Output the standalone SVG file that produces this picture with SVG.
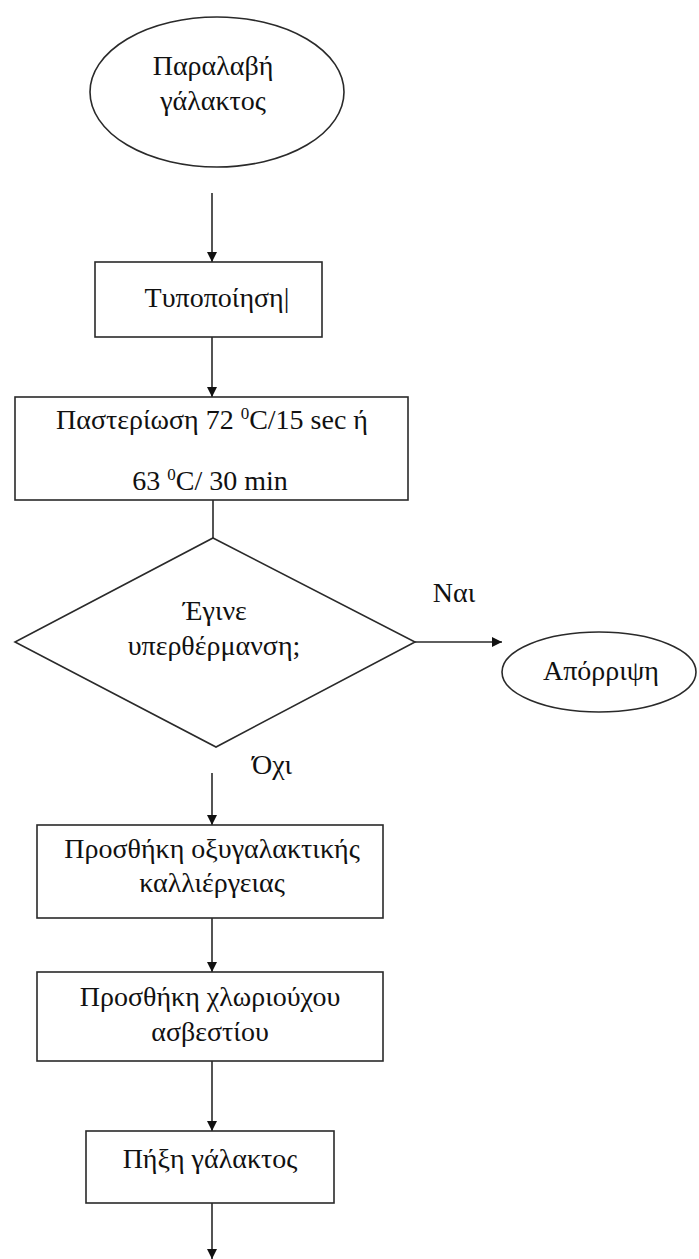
<svg xmlns="http://www.w3.org/2000/svg" width="699" height="1259" viewBox="0 0 699 1259">
<style>
.shape{fill:#fff;stroke:#2a2a2a;stroke-width:1.6}
.conn{stroke:#2a2a2a;stroke-width:1.6;fill:none}
</style>
<defs>
<marker id="ah" viewBox="0 0 10 10" refX="10" refY="5" markerWidth="10" markerHeight="10" markerUnits="userSpaceOnUse" orient="auto">
<path d="M0,0 L10,5 L0,10 z" fill="#111"/>
</marker>
</defs>
<rect width="699" height="1259" fill="#fff"/>
<g id="connectors">
<line class="conn" x1="212" y1="193" x2="212" y2="262" marker-end="url(#ah)"/>
<line class="conn" x1="212" y1="337" x2="212" y2="397" marker-end="url(#ah)"/>
<line class="conn" x1="213" y1="500" x2="213" y2="538"/>
<line class="conn" x1="415" y1="642" x2="502" y2="642" marker-end="url(#ah)"/>
<line class="conn" x1="212" y1="773" x2="212" y2="825" marker-end="url(#ah)"/>
<line class="conn" x1="212" y1="918" x2="212" y2="972" marker-end="url(#ah)"/>
<line class="conn" x1="212" y1="1061" x2="212" y2="1131" marker-end="url(#ah)"/>
<line class="conn" x1="212" y1="1203" x2="212" y2="1259" marker-end="url(#ah)"/>
</g>
<g font-family="Liberation Serif" font-size="28" fill="#111" text-anchor="middle">
<g id="start">
<ellipse class="shape" cx="217" cy="92" rx="127" ry="75"/>
<text x="213" y="75">Παραλαβή</text>
<text x="213" y="110">γάλακτος</text>
</g>
<g id="typopoiisi">
<rect class="shape" x="95" y="262" width="227" height="75"/>
<text x="217" y="307">Τυποποίηση|</text>
</g>
<g id="pasteriosi">
<rect class="shape" x="15" y="397" width="393" height="103"/>
<text x="212" y="429">Παστερίωση 72 <tspan font-size="17" dy="-10">0</tspan><tspan dy="10">C/15 sec ή</tspan></text>
<text x="210" y="490">63 <tspan font-size="17" dy="-10">0</tspan><tspan dy="10">C/ 30 min</tspan></text>
</g>
<g id="decision">
<polygon class="shape" points="213,538 415,642 216,747 15,642"/>
<text x="215" y="620">Έγινε</text>
<text x="214" y="655">υπερθέρμανση;</text>
</g>
<g id="label-yes">
<text x="454" y="602">Ναι</text>
</g>
<g id="label-no">
<text x="272" y="774">Όχι</text>
</g>
<g id="aporripsi">
<ellipse class="shape" cx="599" cy="672" rx="97" ry="40"/>
<text x="601" y="680">Απόρριψη</text>
</g>
<g id="kalliergeia">
<rect class="shape" x="37" y="825" width="346" height="93"/>
<text x="212" y="858">Προσθήκη οξυγαλακτικής</text>
<text x="212" y="892">καλλιέργειας</text>
</g>
<g id="chloriouxo">
<rect class="shape" x="37" y="972" width="346" height="89"/>
<text x="210" y="1006">Προσθήκη χλωριούχου</text>
<text x="210" y="1041">ασβεστίου</text>
</g>
<g id="pixi">
<rect class="shape" x="86" y="1131" width="248" height="72"/>
<text x="210" y="1168">Πήξη γάλακτος</text>
</g>
</g>
</svg>
